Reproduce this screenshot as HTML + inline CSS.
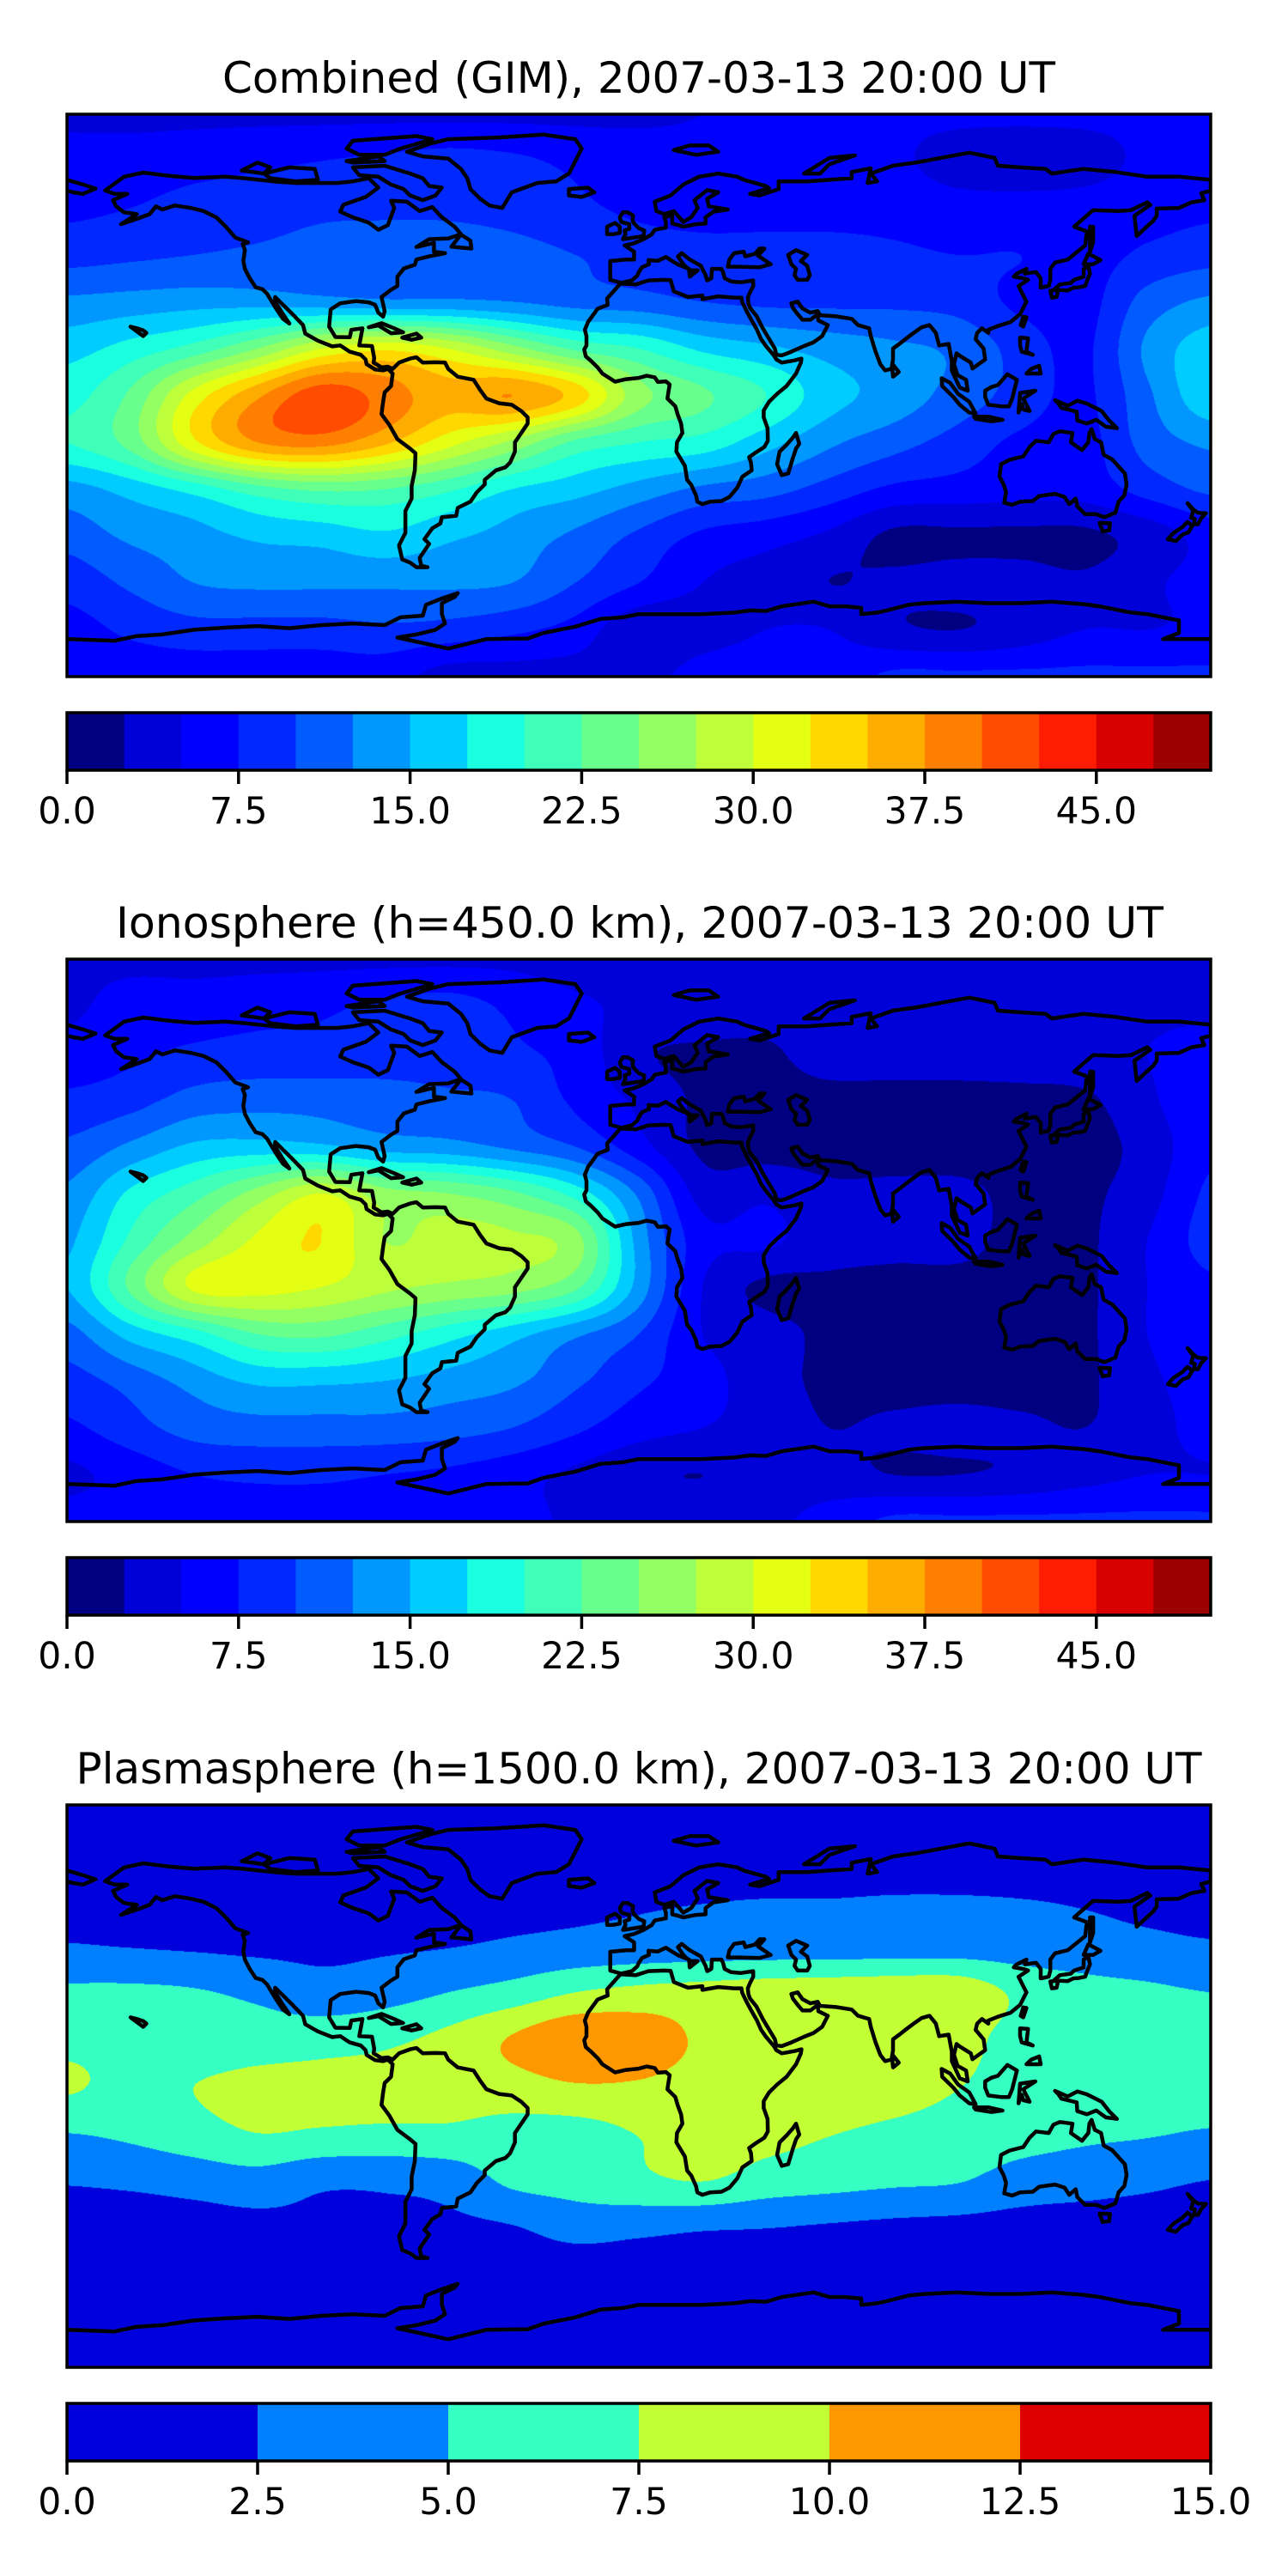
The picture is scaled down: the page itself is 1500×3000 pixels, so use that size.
<!DOCTYPE html>
<html>
<head>
<meta charset="utf-8">
<style>
  html,body{margin:0;padding:0;background:#fff;}
  body{width:1500px;height:3000px;position:relative;overflow:hidden;font-family:"DejaVu Sans","Liberation Sans",sans-serif;}
  canvas{position:absolute;}
  #overlay{position:absolute;left:0;top:0;}
</style>
</head>
<body>
<canvas id="map0" width="1332" height="655" style="left:78px;top:133px"></canvas>
<canvas id="map1" width="1332" height="655" style="left:78px;top:1117px"></canvas>
<canvas id="map2" width="1332" height="655" style="left:78px;top:2102px"></canvas>
<svg id="overlay" width="1500" height="3000" xmlns="http://www.w3.org/2000/svg">
  <defs>
    <clipPath id="clip0"><rect x="78" y="133" width="1332" height="655"/></clipPath>
    <clipPath id="clip1"><rect x="78" y="1117" width="1332" height="655"/></clipPath>
    <clipPath id="clip2"><rect x="78" y="2102" width="1332" height="655"/></clipPath>
  </defs>
  <text x="744" y="108" font-size="50" text-anchor="middle" textLength="970" lengthAdjust="spacingAndGlyphs" fill="#000">Combined (GIM), 2007-03-13 20:00 UT</text>
  <text x="745" y="1092" font-size="50" text-anchor="middle" textLength="1220" lengthAdjust="spacingAndGlyphs" fill="#000">Ionosphere  (h=450.0 km), 2007-03-13 20:00 UT</text>
  <text x="744" y="2077" font-size="50" text-anchor="middle" textLength="1311" lengthAdjust="spacingAndGlyphs" fill="#000">Plasmasphere (h=1500.0 km), 2007-03-13 20:00 UT</text>
  <g id="layer"></g>
</svg>
<script>
// ===== Chart data =====
const gridLats = [90,75,60,45,30,15,0,-15,-30,-45,-60,-75,-90];
const gridLons = [-180,-160,-140,-120,-100,-80,-60,-40,-20,0,20,40,60,80,100,120,140,160,180];

const tecCombined = [
 [4.5,4.5,4.5,4.5,4.5,4.5,4.5,4.5,4.5,4.5,5,5.5,5.5,5.5,5.5,5.5,5.5,5.5,5.5],
 [6,6,6.5,7,7.5,8,8.5,8,7,6.5,6,6,6,5.5,4,3.5,4,5.5,6],
 [7,7.5,8.5,9,9.5,9.5,9.5,9,8,7,6.5,6.5,6.5,6.5,6,6,6,6.5,7],
 [9,9.5,10,10.5,11,11.5,11.5,11,10,9,8.5,8.5,8.5,8,7.5,7.5,6.5,8,9],
 [13,13.5,14,14,13.5,13,13,12.5,11.5,11,10,9.5,9.5,9.5,9,7,6.5,11,13],
 [16.5,18.5,21,25,30,32,30,26,22,20,17,15.5,14,13,12,9,7,13,16.5],
 [19,23,31,37,41.5,39,36,37.5,34,26,23,20,16,14,11.5,9,7,12,17],
 [20,23.5,32,37.5,38.5,35.5,31,27,22,20,19,16,13,11,9,7,6.5,11,13],
 [14,16,18.5,21.5,23,22.5,20.5,17.5,16,14,12,11,9,7,6.5,6,6,8.5,10.5],
 [11,13,14,15.5,16,17,15.5,14,12,9.5,7,6,4.5,2,2,2,2,3.5,6],
 [8.5,10.5,12.5,13,13,13,13,12.5,10,7.5,5,4,2.5,3,3.5,3.5,3,4.5,6],
 [6.5,8,9,9,9,9.5,9,8,6.5,3,4,5,5,3,2.5,3.5,5,5,5.5],
 [6,6,6,6,6,6,4,4,4,4,6,6,6,8,8,8,8,8,8]
];
const tecIono = [
 [4.5,4.5,4.5,4.5,4.5,4.5,4.5,4.5,4,4,4,4,4,4,4,4,4,4,4],
 [4.5,6,6,6.5,7,8,8.5,7,5.5,4.5,4.5,4,4,4,3.5,4,4,4.5,4.5],
 [6,7,8,8.5,8.5,9,9,8,6.5,3,2,2,4,4,4,4.5,4.5,5,6],
 [8,9,11,11.5,11.5,11,10.5,10,7,4.5,2,1.5,1.5,1.5,1.5,1.5,2,4.5,7],
 [10.5,13,15.5,16,15.5,14,13.5,12,10,6,2,1.5,1.5,1.5,1.5,1.5,1.5,3.5,7],
 [13,18,21.5,26,30,26,25,23,19,12,4,4.5,3,3,3,2,2,4,8],
 [14.5,20.5,26,30.5,32.5,27.5,28.5,28,26,14,6,5.5,3.5,3,3,2,2,5,8.5],
 [15,23,30.5,31,30,28,27,26,23,14,5,2,2,2,2,2,2,5,7],
 [11.5,16,19,22.5,23,21,18.5,16,13,10,5,3.5,2,2,2,2,2,5,6],
 [9,11,13.5,15.5,15.5,15,14,13,10.5,8,6,3.5,2,1.5,1.5,1.5,2,4.5,6],
 [7,9,11,11.5,11.5,11.5,11,10,8,6,5,4,2.5,3,3.5,3,2.5,4,6],
 [4.5,6,7.5,8,8,7.5,7,6,4.5,3,2.5,3.5,3.5,2.5,2.5,3,4,5,5],
 [6,6,6,6,6,6,6,6,4.5,4.5,4.5,4.5,6,8,8,8,8,8,8]
];
const tecPlasma = [
 [1,1,1,1,1,1,1,1,1,1,1,1,1,1,1,1,1,1,1],
 [1.2,1.2,1.2,1.2,1.2,1.2,1.2,1.2,1.2,1.2,1.2,1.2,1.2,1.2,1.2,1.2,1.2,1.2,1.2],
 [1.8,1.8,1.8,1.8,1.8,1.8,1.8,2,2.2,2.3,2.4,2.5,2.5,2.6,2.6,2.5,2.3,2,1.8],
 [2.6,2.4,2.2,2,2,2.2,2.4,2.8,3.1,3.3,3.4,3.5,3.5,3.6,3.6,3.5,3.3,3,2.7],
 [5.5,5.5,5.2,4.5,3.5,4,5,6,7.5,8.2,8.5,8.8,9,9.2,9.2,7,6,5.5,5],
 [6.8,6.5,6,6.2,6.5,7,8.2,10.2,12,11.5,9.6,8.8,8.8,8.8,8.5,6.5,6.5,6.5,6.5],
 [7.8,6.8,7.5,8.2,8.3,8.4,8.6,9,9.8,9.7,9,8.8,8.8,8.5,7.6,6.5,6.5,6.3,6.3],
 [5,5.5,6.5,7.5,7.2,7,7,6.5,6.5,7.6,8.5,8.2,7.6,7,6.5,6,5.5,5.2,4.8],
 [2.7,3,3.5,4,3,3,3.5,5.5,6,7,7.6,6.5,6,5.5,5.2,4,3.5,3,2.5],
 [1.5,1.3,1.5,1.8,2,2,2,2.4,3.5,3.2,2.8,2.6,2.3,2,1.8,1.6,1.5,1.5,1.5],
 [1,1,1,1,1,1,1,1,1,1,1,1,1,1,1,1,1,1,1],
 [1,1,1,1,1,1,1,1,1,1,1,1,1,1,1,1,1,1,1],
 [1,1,1,1,1,1,1,1,1,1,1,1,1,1,1,1,1,1,1]
];
const levelStep = 2.5;
const cbarMaxGim = 50;
const cbarMaxPlasma = 15;
const tickValsGim = [0,7.5,15,22.5,30,37.5,45];
const tickLabelsGim = ['0.0','7.5','15.0','22.5','30.0','37.5','45.0'];
const tickValsPlasma = [0,2.5,5,7.5,10,12.5,15];
const tickLabelsPlasma = ['0.0','2.5','5.0','7.5','10.0','12.5','15.0'];

// ===== Styles (palettes) =====
const paletteGim = ['#000080','#0000d8','#0000ff','#0028ff','#005cff','#0098ff','#00ccff','#1affe0','#40ffb8','#68ff8c','#94ff62','#bcff3a','#e4ff14','#ffd800','#ffac00','#ff8000','#ff4c00','#ff1c00','#d80000','#9c0000'];
const palettePlasma = ['#0000dc','#0080ff','#35ffc3','#c3ff35','#ff9800','#dc0000'];

// ===== Coastlines (lon, lat) =====
const coasts = [
 {n:'north-america',c:false,p:[[-168,65.6],[-162,70],[-156,71.3],[-148,70.3],[-140,69.6],[-130,70],[-124,69.5],[-115,68.5],[-108,68],[-98,68],[-95,68],[-90,68.5],[-85,69.5],[-82,66.5],[-86,63.5],[-93,61],[-94,58.8],[-90,57],[-85,55.3],[-82,53],[-79,54.5],[-77,60],[-78,62.3],[-73,62],[-69,59],[-65,60.3],[-62,57],[-58,54],[-56,51.6],[-60,50.2],[-66,50],[-70,47.5],[-64.5,48.8],[-64.5,46],[-61,45.5],[-66,44.5],[-70,43.5],[-70.5,41.8],[-74,40.6],[-76,38],[-76,35],[-78,33.8],[-81,31.5],[-80,27],[-80.5,25.2],[-82,26.5],[-83,29],[-85,29.8],[-89,30.2],[-94,29.5],[-97,27.5],[-97.5,22],[-95.5,18.7],[-91,18.6],[-90.5,21],[-87,21.5],[-88,16],[-84,15.8],[-83.3,12],[-83.5,10.5],[-81,9],[-79,9.2],[-77.5,8.5],[-75.5,10.5],[-72,11.8],[-70,12.2],[-68,10.5],[-64,10.6],[-61,10.5],[-60,8.5],[-57,6],[-52,5],[-50,1.8],[-48,-1],[-44,-2.5],[-40,-3],[-37,-5],[-35,-7],[-35,-9],[-37,-12],[-39,-15],[-39,-18],[-40.5,-21.5],[-42,-23],[-45,-24],[-48.5,-27],[-48.5,-28.5],[-51,-31],[-53,-34],[-57,-36],[-57.5,-38.5],[-62,-39],[-62.5,-41],[-65,-42.5],[-67.5,-46],[-66,-47.5],[-68,-50.5],[-69,-52],[-68.5,-54.5],[-66.5,-55],[-70,-55],[-72,-53.5],[-74.5,-52.5],[-75.5,-48],[-73.5,-44],[-73.5,-41],[-73.5,-37],[-71.5,-33],[-71.5,-29],[-70.5,-24],[-70.3,-18.5],[-72,-17],[-76,-14],[-78.5,-9.5],[-81,-6],[-80.5,-2],[-80,1],[-78,3],[-77.5,7],[-79,8.5],[-80.5,8],[-83,8.3],[-85.7,10],[-86,11.5],[-87.5,13],[-91,14],[-94,16],[-96.5,15.7],[-101,17.5],[-105,19.8],[-105.7,22.5],[-109.5,26.5],[-112.5,29.5],[-114.5,31.5],[-114.5,30],[-112,26],[-110,23],[-112,24.5],[-114,27.5],[-115.5,30],[-117,32.5],[-118.5,34],[-120.6,34.6],[-122.5,37.5],[-124,40.5],[-124.5,43],[-124,46.5],[-124.7,48.4],[-123,49],[-127,50.5],[-130,54],[-133,57],[-137,59],[-141,60],[-146,60.8],[-150,59.5],[-152,60.5],[-154,58],[-158,56.5],[-163,54.8],[-158,58],[-162,58.6],[-164.5,60.5],[-165.5,62.5],[-164,63.2],[-161,64.5],[-165,64.5],[-168,65.6]]},
 {n:'greenland',c:true,p:[[-73,78],[-66,80.5],[-60,82],[-45,82.5],[-30,83.5],[-20,82],[-18,79],[-20,75],[-22,71],[-26,68.5],[-32,68],[-40,65],[-43,60],[-47,60.8],[-50,63],[-53,66],[-54,69.5],[-56,72.5],[-60,75.8],[-68,76.5]]},
 {n:'baffin',c:true,p:[[-80,73.5],[-72,71],[-68,69.5],[-66,67],[-62,66.5],[-64,64],[-68,62.5],[-72,64],[-74,66],[-78,67.5],[-82,70],[-88,70.5],[-90,73]]},
 {n:'victoria',c:true,p:[[-118,71],[-110,73],[-102,72.5],[-101,69],[-108,68.5],[-116,69.5]]},
 {n:'ellesmere',c:true,p:[[-80,77],[-75,79],[-65,82],[-70,83],[-90,81.5],[-92,79],[-88,77]]},
 {n:'banks',c:true,p:[[-125,72],[-120,74.5],[-116,73],[-118,71]]},
 {n:'devon',c:true,p:[[-92,75],[-82,76.5],[-80,75],[-90,74.5]]},
 {n:'newfoundland',c:true,p:[[-59,47.6],[-56,51.5],[-53,49.5],[-52.7,47]]},
 {n:'cuba',c:true,p:[[-85,21.8],[-81,23.1],[-77,21.5],[-74.2,20.2],[-78,19.9],[-82,22.4]]},
 {n:'hispaniola',c:true,p:[[-74.5,18.5],[-70,19.8],[-68.5,18.5],[-71.5,17.8]]},
 {n:'hawaii',c:true,p:[[-156,19],[-155,20],[-156,20.8],[-158,21.5],[-160,22]]},
 {n:'iceland',c:true,p:[[-22,64],[-22,66],[-16,66.5],[-14,65],[-18,63.5]]},
 {n:'great-britain',c:true,p:[[-5,50],[1.5,51],[1.7,52.8],[0,53.5],[-1.5,55],[-2,56],[-1.8,57.6],[-3.5,58.6],[-5,58.6],[-6,57],[-5.5,55.5],[-3,54.8],[-3,53.3],[-4.5,52.8],[-4.2,51.6]]},
 {n:'ireland',c:true,p:[[-6,52],[-6,54],[-7.5,55.2],[-10,54],[-10,51.6],[-8,51.6]]},
 {n:'svalbard',c:true,p:[[11,78.5],[16,80],[22,80],[25,78],[18,77]]},
 {n:'novaya-zemlya',c:true,p:[[52,71],[56,73.5],[60,76],[68,76.8],[60,74],[57,71]]},
 {n:'eurasia',c:false,p:[[-9,37],[-9,39],[-9,43],[-4,43.5],[-1.5,43.5],[-1.5,46],[-4.5,48],[-1.5,48.7],[1.5,50],[4,51.5],[5,53],[8.5,53.7],[8.5,55.5],[8,57],[10.5,57.7],[10.5,55],[12.5,54.5],[14,54],[18,54.8],[21,55],[21,57],[23.5,58.8],[28,59.5],[22,60.5],[21.5,63],[25,65],[21.5,65.7],[17.5,62.5],[18.5,60],[16.5,57],[14,55.5],[11,59],[8,58],[5.5,59],[5,62],[10,64],[14,67.5],[19,70],[25,71],[31,70],[33,69],[40,67],[41,66.3],[35,64.5],[38,64],[44,66],[44,68.5],[53,68.5],[60,69],[67,69.5],[67,71.5],[73,72.7],[72,68],[75,68.5],[73,71],[80,73.5],[87,74.5],[95,76],[104,77.7],[112,76],[113,73.5],[120,73],[128,72.5],[130,71],[140,72.5],[150,71.5],[160,70],[170,70],[180,69],[180,65.5],[177,64.7],[178,62.5],[174,61.8],[170,60],[163,59.8],[163,57.5],[162,56],[156.7,51],[156,57.5],[161,61],[160,61.8],[155,59.3],[151,59],[143,59.3],[137,54],[141,52.5],[140.5,48],[135,43.5],[131,42.5],[129.5,40.5],[129.5,37],[129,35],[126.5,34.5],[126.5,37.5],[125,39.5],[121.5,39],[122,40.5],[119,39],[118,38],[121,37.5],[122.5,37],[119.5,35],[121,32],[122,30],[120,26],[117,23.5],[113,22.2],[110,21],[110,20],[108,21.5],[106.5,20],[106,18],[108.5,15],[109,11.5],[105,8.6],[104.5,10.5],[101,12.7],[100,13.5],[99.2,10],[100.3,6.5],[103,5],[103.5,1.5],[101,2.5],[98.5,8],[98.5,11],[97.5,16.5],[94.5,16],[93.5,20],[91.5,22.5],[89,21.8],[86.5,20],[84.5,18.5],[82,16.5],[80,15],[80,11.5],[79.5,8.5],[77.5,8],[76,10],[74.5,14],[73,19],[72.5,21.5],[69,22.5],[67,24.5],[62,25.3],[57,25.7],[56.3,27],[54,26.5],[51.5,27.8],[50,30],[48,29.5],[48.5,28],[50,26],[51.5,24.2],[54,24.2],[56.3,26],[56.5,24],[59.5,22.5],[57.7,19],[55,17],[52,15.8],[48,14],[45,12.8],[43.3,13],[42.8,15],[39,21.5],[37,25.5],[35,28],[34.5,29.5],[34.3,31.3],[35,33],[36,35],[36,36.8],[32,36.2],[29,36.5],[27,37.5],[26.5,39.5],[26,40.5],[23,40.5],[22.8,37.5],[21.5,36.8],[21,38.5],[19.5,41.5],[16,43.5],[13.5,45.5],[12.3,44.5],[14,42],[16,40],[18.5,40],[16,38],[15.8,40.5],[12.5,41.8],[10.5,43],[8.5,44.3],[6,43.1],[3,43.3],[3.2,42],[1,41],[0,39.5],[-0.5,38.3],[-2.2,36.8],[-5.5,36],[-9,37]]},
 {n:'chukotka',c:false,p:[[-180,69],[-175,67.5],[-171,66.2],[-175,64.5],[-178,65],[-180,65.5]]},
 {n:'black-sea',c:true,p:[[28,41.2],[28.5,43.5],[30,45.5],[33,46],[33.5,44.5],[36.5,45.3],[38,47],[39.5,47],[37.5,44.7],[41.5,42],[38,41],[31,41.2]]},
 {n:'caspian-sea',c:true,p:[[47,45],[49.5,46.5],[53,45],[51,43],[53,41.5],[53.8,38.5],[53,37],[50,37],[49,38.5],[49.5,40.5],[48,42],[47.5,43.5]]},
 {n:'africa',c:true,p:[[-5.8,35.8],[-10,31],[-9.8,29],[-13,27.7],[-16,23.5],[-17,21],[-16.5,19],[-16.5,16],[-17.2,14.7],[-16.7,12.5],[-15,11],[-13,9],[-11.5,7],[-7.5,4.4],[-4,5.2],[0,5.6],[2.5,6.3],[5,5.8],[6,4.3],[8.5,4.5],[9.7,3.5],[9.3,1],[9,-1],[11.5,-3.5],[12.2,-6],[13.3,-9],[13.7,-12],[12,-15],[11.8,-18],[14.5,-22.5],[15.2,-27],[16.5,-28.6],[18,-32],[18.4,-34],[20,-34.8],[22.5,-34],[26,-33.8],[28.5,-32.5],[31,-29.5],[32.6,-26],[35.5,-24],[35.3,-21.5],[34.7,-19.8],[36.5,-18.5],[39.5,-16.5],[40.6,-14.5],[40.5,-10.5],[39.3,-7],[39.3,-4.8],[41,-2],[43.5,0.5],[46.5,3],[49.5,7],[51,10.5],[51.2,11.8],[49,11.2],[45,10.5],[43.3,11.5],[42.5,12.8],[40,15.8],[38.5,18],[37.2,21],[35.5,24],[34,26.8],[32.5,29.9],[32.3,31.3],[30,31.3],[25,31.7],[20,30.8],[20,32],[15.5,31.5],[11,33.3],[10,36.9],[8,37],[3,36.8],[-1,35.5]]},
 {n:'madagascar',c:true,p:[[49.5,-12],[50.5,-15.5],[49.5,-17],[48.5,-20],[47,-25],[45,-25.5],[43.5,-22],[44.3,-18],[46.5,-15.8],[48.5,-13.5]]},
 {n:'sri-lanka',c:true,p:[[80,6],[81.8,7.5],[80,9.8],[79.8,8]]},
 {n:'honshu',c:true,p:[[130.8,34],[132.5,35.5],[136,36],[137,37],[140,38],[140,40.5],[141.5,41.4],[142,39],[141,36.5],[140.5,35],[138.5,34.6],[136.8,34.5],[135,33.6],[131,33.8]]},
 {n:'hokkaido',c:true,p:[[140,42],[141.5,45.4],[145.3,43.3],[143,42]]},
 {n:'kyushu',c:true,p:[[130,31.3],[131.5,31.5],[132,33.8],[129.5,33.5]]},
 {n:'sakhalin',c:true,p:[[142,46],[143,49],[143,54],[142,54]]},
 {n:'taiwan',c:true,p:[[120.2,22.5],[121,25.2],[122,25],[121,22]]},
 {n:'luzon',c:true,p:[[120,18.5],[122.5,18.3],[122,14],[124,13],[120.5,14],[120,16]]},
 {n:'mindanao',c:true,p:[[122,7],[126.5,7],[126,9.5],[123.5,8.5]]},
 {n:'borneo',c:true,p:[[109,1.5],[111,2.7],[113,3.3],[116,6.8],[119,5],[118,1],[117.5,-1],[116.5,-3.5],[114,-3.5],[110,-3],[109,-0.5]]},
 {n:'sumatra',c:true,p:[[95.3,5.5],[98,4],[100.5,0.5],[104,-2],[106,-5.8],[104,-5.5],[101,-3],[99,-0.5],[95.5,3]]},
 {n:'java',c:true,p:[[105.5,-6.8],[110,-6.8],[114.5,-7.8],[111,-8.3],[106,-7.5]]},
 {n:'sulawesi',c:true,p:[[119.5,-5.5],[120,0.8],[124.8,1.5],[121,-1],[123,-5],[121,-4.5],[120.5,-2.8]]},
 {n:'new-guinea',c:true,p:[[131,-1.5],[135,-3.3],[138,-1.7],[141,-2.6],[145.7,-5],[148,-8],[150.5,-10.5],[147,-10],[144,-7.8],[141,-9],[138,-8],[137.8,-5.2],[133,-4],[132,-2.5]]},
 {n:'australia',c:true,p:[[114,-22],[116.7,-20.6],[121,-19.5],[123,-16.5],[125,-14.5],[129,-15],[130.5,-12.3],[132.5,-11.5],[136.5,-12],[136,-15],[139.5,-17.5],[141.5,-15],[141.8,-12],[142.5,-10.8],[143.5,-14],[145.5,-15],[146.3,-19],[149,-20.5],[153,-25],[153.5,-28.5],[152.8,-32],[151,-34],[150,-37.5],[146.5,-39],[144,-38],[140.5,-38],[138,-35.5],[137.5,-33],[135.5,-34.8],[134,-32.5],[131,-31.5],[126,-32.2],[124,-33.8],[120,-34],[117.5,-35],[115,-34.3],[115.6,-31],[114.8,-28.5],[113.5,-26]]},
 {n:'tasmania',c:true,p:[[145,-40.8],[148.3,-40.9],[148,-43.2],[146,-43.5]]},
 {n:'nz-north',c:true,p:[[172.7,-34.5],[174.5,-36.5],[176,-37.6],[178.5,-37.7],[177,-39.3],[176,-41.2],[174.7,-41.3],[175,-39.5],[173.8,-39.2],[174.5,-37]]},
 {n:'nz-south',c:true,p:[[172.7,-40.5],[174.2,-41.7],[173,-43.8],[171.2,-44.5],[169,-46.6],[166.5,-46],[168.3,-44],[171,-42.2]]},
 {n:'antarctica',c:false,p:[[-180,-78],[-165,-78.5],[-158,-77],[-150,-76.5],[-140,-75],[-130,-74.3],[-120,-73.8],[-110,-74.5],[-100,-73.5],[-90,-73],[-80,-73.5],[-75,-71],[-68,-70.5],[-67,-67],[-62,-65],[-57,-63.3],[-58,-64.5],[-62,-66.5],[-62,-70],[-61,-73],[-64,-75],[-70,-76.5],[-76,-77.5],[-60,-81],[-48,-78],[-35,-77.8],[-30,-76],[-20,-74],[-12,-71.5],[-5,-71],[0,-70],[10,-70],[20,-70],[30,-69.5],[35,-68.8],[40,-69],[45,-67.5],[55,-66],[60,-67.5],[65,-67.5],[70,-68],[70,-70],[75,-69.5],[78,-68.8],[85,-67],[90,-66.5],[100,-66],[110,-66.5],[120,-66.5],[130,-66],[140,-66.8],[145,-67.5],[150,-68.5],[155,-69.5],[160,-70],[165,-71],[170,-72],[170,-76],[165,-78],[180,-78]]}
];

// ===== Layout / axes =====
const X0 = 78, MW = 1332, MH = 655;
const panels = [
  {id:'combined', top:133, data:tecCombined, pal:paletteGim, vmax:cbarMaxGim, tv:tickValsGim, tl:tickLabelsGim},
  {id:'ionosphere', top:1117, data:tecIono, pal:paletteGim, vmax:cbarMaxGim, tv:tickValsGim, tl:tickLabelsGim},
  {id:'plasmasphere', top:2102, data:tecPlasma, pal:palettePlasma, vmax:cbarMaxPlasma, tv:tickValsPlasma, tl:tickLabelsPlasma}
];
function xOfLon(lon){ return X0 + (lon + 180) / 360 * MW; }
function yOfLat(lat, top){ return top + (90 - lat) / 180 * MH; }
function cbX(v, vmax){ return X0 + v / vmax * MW; }

function hexToRgb(h){ return [parseInt(h.substr(1,2),16),parseInt(h.substr(3,2),16),parseInt(h.substr(5,2),16)]; }
function cr(p0,p1,p2,p3,t){
  return 0.5*((2*p1)+(-p0+p2)*t+(2*p0-5*p1+4*p2-p3)*t*t+(-p0+3*p1-3*p2+p3)*t*t*t);
}
function sampleField(g, lon, lat){
  const nr = gridLats.length, nc = gridLons.length;
  const fi = (gridLats[0] - lat) / (gridLats[0] - gridLats[1]);
  const fj = (lon - gridLons[0]) / (gridLons[1] - gridLons[0]);
  let i = Math.floor(fi), j = Math.floor(fj);
  if (i > nr-2) i = nr-2; if (j > nc-2) j = nc-2;
  const ti = fi - i, tj = fj - j;
  const ci = k => Math.max(0, Math.min(nr-1, k));
  const cj = k => Math.max(0, Math.min(nc-1, k));
  const rows = [];
  for (let a=-1; a<=2; a++){
    const r = g[ci(i+a)];
    rows.push(cr(r[cj(j-1)], r[cj(j)], r[cj(j+1)], r[cj(j+2)], tj));
  }
  return cr(rows[0], rows[1], rows[2], rows[3], ti);
}

panels.forEach((p, k) => {
  const cv = document.getElementById('map'+k);
  const ctx = cv.getContext('2d');
  const img = ctx.createImageData(MW, MH);
  const rgb = p.pal.map(hexToRgb);
  const n = p.pal.length;
  for (let y=0; y<MH; y++){
    const lat = 90 - (y + 0.5) / MH * 180;
    for (let x=0; x<MW; x++){
      const lon = (x + 0.5) / MW * 360 - 180;
      const v = sampleField(p.data, lon, lat);
      let li = Math.floor(v / levelStep);
      if (li < 0) li = 0; if (li > n-1) li = n-1;
      const c = rgb[li], o = (y*MW + x)*4;
      img.data[o]=c[0]; img.data[o+1]=c[1]; img.data[o+2]=c[2]; img.data[o+3]=255;
    }
  }
  ctx.putImageData(img, 0, 0);
});

// ===== Overlay (coastlines, frames, colorbars) =====
const NS = 'http://www.w3.org/2000/svg';
const layer = document.getElementById('layer');
function mk(tag, attrs, parent){
  const e = document.createElementNS(NS, tag);
  for (const a in attrs) e.setAttribute(a, attrs[a]);
  (parent || layer).appendChild(e);
  return e;
}
panels.forEach((p, k) => {
  const g = mk('g', {'clip-path':'url(#clip'+k+')'});
  
  
  coasts.forEach(cst => {
    let d = cst.p.map((pt, i) => (i ? 'L' : 'M') + xOfLon(pt[0]).toFixed(1) + ' ' + yOfLat(pt[1], p.top).toFixed(1)).join(' ');
    if (cst.c) d += ' Z';
    const path = mk('path', {d:d, fill:'none', stroke:'#000', 'stroke-width':4.5, 'stroke-linejoin':'round', 'stroke-linecap':'round'}, g);
    
    
  });
  const frame = mk('rect', {x:X0, y:p.top, width:MW, height:MH, fill:'none', stroke:'#000', 'stroke-width':3.5});
  
  

  // colorbar
  const cbTop = p.top + MH + 42, cbH = 67;
  const cb = mk('g', {});
  
  
  const nLev = Math.round(p.vmax / levelStep);
  for (let i=0; i<nLev; i++){
    const x1 = cbX(i*levelStep, p.vmax), x2 = cbX((i+1)*levelStep, p.vmax);
    const r = mk('rect', {x:x1, y:cbTop, width:(x2-x1+0.6), height:cbH, fill:p.pal[Math.min(i, p.pal.length-1)]}, cb);
    
    
  }
  const cbf = mk('rect', {x:X0, y:cbTop, width:MW, height:cbH, fill:'none', stroke:'#000', 'stroke-width':3.5}, cb);
  
  
  p.tv.forEach((v, i) => {
    const x = cbX(v, p.vmax);
    const t = mk('line', {x1:x, x2:x, y1:cbTop+cbH, y2:cbTop+cbH+16, stroke:'#000', 'stroke-width':3.5}, cb);
    
    
    const lb = mk('text', {x:x, y:cbTop+cbH+62, 'font-size':42.5, 'text-anchor':'middle', fill:'#000'}, cb);
    lb.textContent = p.tl[i];
    
    
  });
});
</script>
</body>
</html>
